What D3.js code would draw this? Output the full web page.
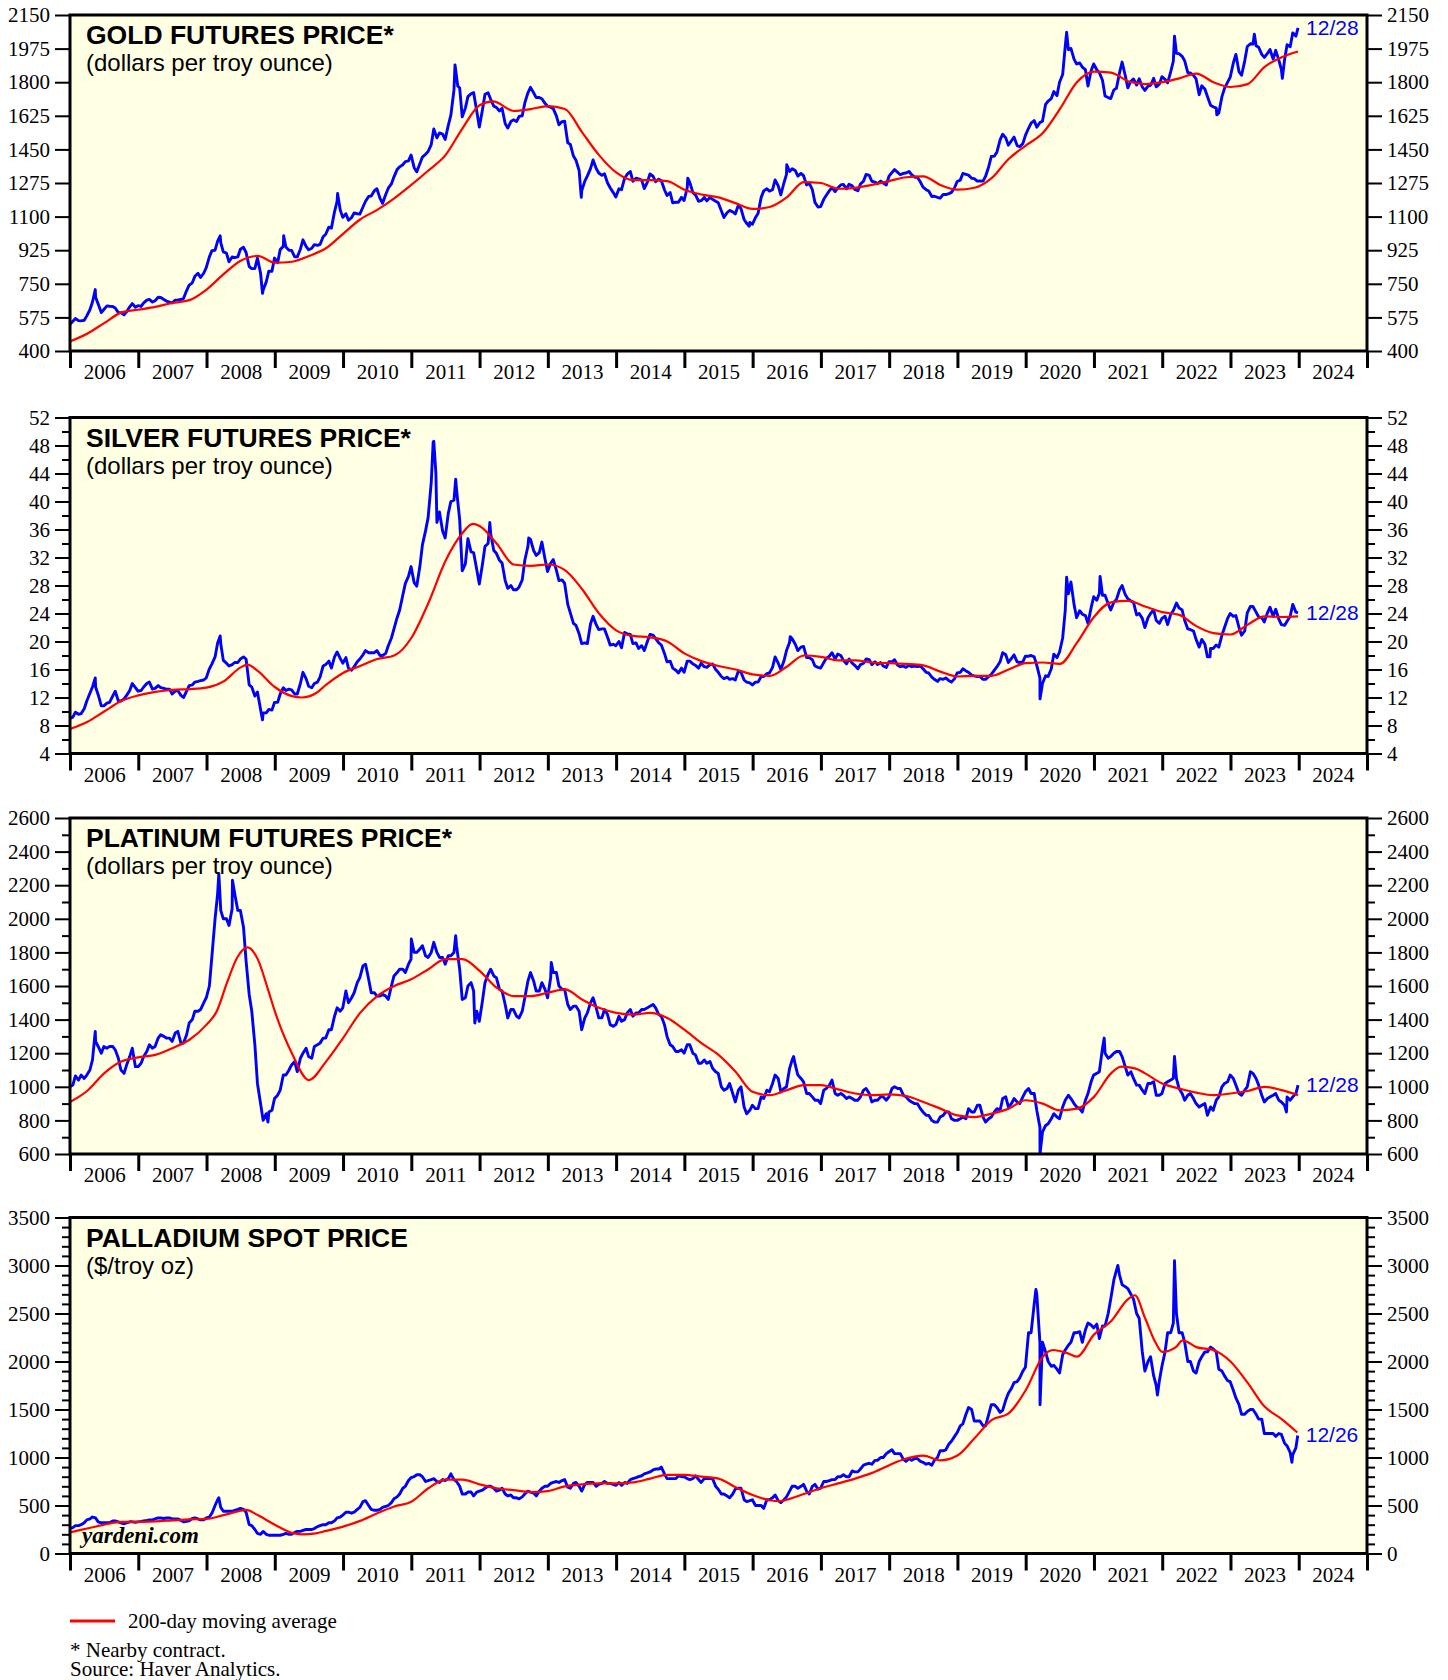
<!DOCTYPE html>
<html>
<head>
<meta charset="utf-8">
<script src="https://cdn.jsdelivr.net/npm/d3@7"></script>
<style>
body { margin: 0; background: #fff; }
svg text { font-family: "Liberation Serif", "Times New Roman", serif; fill: #000; }
.axis text { font-size: 21px; }
.axis line { stroke: #000; stroke-width: 2; }
.axis .domain { display: none; }
.xaxis line { stroke-width: 3; }
.title { font-family: "Liberation Sans", Arial, sans-serif; font-weight: bold; font-size: 26.5px; }
.sub { font-family: "Liberation Sans", Arial, sans-serif; font-size: 24px; }
.endlabel { font-family: "Liberation Sans", Arial, sans-serif; font-size: 21px; fill: #0000ff; }
.price { fill: none; stroke: #0000ff; stroke-width: 2.9; stroke-linejoin: round; }
.avg { fill: none; stroke: #ff0000; stroke-width: 2.2; }
</style>
</head>
<body>
<svg id="chart" width="1448" height="1680"></svg>
<script>
// monthly averages, Jan 2006 .. Dec 2023
const gold = [
  555, 558, 560, 615, 680, 600, 635, 632, 600, 588, 630, 628,
  632, 665, 655, 680, 668, 655, 665, 668, 715, 755, 805, 805,
  890, 925, 965, 910, 890, 890, 940, 840, 830, 805, 760, 815,
  860, 945, 925, 890, 930, 945, 935, 950, 995, 1045, 1125, 1135,
  1115, 1095, 1115, 1150, 1205, 1235, 1195, 1215, 1270, 1345, 1370, 1390,
  1355, 1375, 1425, 1475, 1510, 1530, 1575, 1760, 1770, 1665, 1740, 1650,
  1655, 1745, 1675, 1650, 1585, 1595, 1595, 1625, 1745, 1745, 1720, 1690,
  1670, 1625, 1595, 1485, 1415, 1340, 1285, 1350, 1350, 1315, 1275, 1225,
  1245, 1300, 1335, 1300, 1290, 1280, 1310, 1295, 1240, 1225, 1175, 1200,
  1250, 1225, 1180, 1200, 1200, 1180, 1130, 1120, 1125, 1160, 1085, 1070,
  1095, 1200, 1245, 1240, 1260, 1275, 1335, 1340, 1325, 1265, 1240, 1150,
  1190, 1235, 1230, 1265, 1245, 1260, 1235, 1285, 1315, 1280, 1285, 1265,
  1330, 1330, 1325, 1335, 1305, 1280, 1240, 1205, 1200, 1215, 1220, 1250,
  1290, 1320, 1300, 1285, 1285, 1360, 1415, 1500, 1510, 1495, 1470, 1480,
  1560, 1600, 1590, 1685, 1715, 1730, 1840, 1970, 1920, 1900, 1865, 1860,
  1865, 1810, 1720, 1760, 1850, 1835, 1805, 1785, 1775, 1780, 1820, 1790,
  1815, 1855, 1950, 1935, 1850, 1835, 1735, 1765, 1680, 1665, 1725, 1800,
  1900, 1855, 1910, 2000, 1990, 1945, 1950, 1920, 1915, 1915, 1985, 2040
];
// month-end closes, Jan 2006 .. Nov 2023
const goldClose = [
  569, 557, 583, 655, 645, 616, 633, 624, 600, 604, 647, 636,
  651, 669, 662, 679, 660, 650, 666, 673, 743, 789, 783, 834,
  923, 972, 916, 865, 886, 930, 913, 829, 884, 718, 816, 884,
  928, 942, 924, 890, 979, 927, 954, 955, 1008, 1040, 1180, 1096,
  1081, 1119, 1113, 1180, 1207, 1245, 1169, 1248, 1307, 1359, 1386, 1421,
  1333, 1410, 1439, 1556, 1536, 1502, 1628, 1829, 1620, 1725, 1746, 1566,
  1737, 1711, 1669, 1664, 1561, 1604, 1622, 1692, 1773, 1720, 1714, 1675,
  1662, 1578, 1597, 1476, 1393, 1234, 1312, 1395, 1327, 1323, 1250, 1202,
  1240, 1321, 1284, 1296, 1246, 1322, 1282, 1287, 1210, 1172, 1175, 1184,
  1278, 1213, 1183, 1182, 1190, 1172, 1095, 1132, 1114, 1142, 1065, 1060,
  1116, 1234, 1233, 1291, 1213, 1320, 1349, 1311, 1313, 1274, 1174, 1152,
  1211, 1251, 1249, 1268, 1268, 1242, 1270, 1320, 1284, 1271, 1275, 1309,
  1345, 1318, 1327, 1318, 1305, 1253, 1233, 1206, 1196, 1215, 1226, 1283,
  1325, 1316, 1298, 1286, 1310, 1413, 1437, 1529, 1472, 1514, 1464, 1523,
  1587, 1566, 1597, 1702, 1751, 1800, 1986, 1976, 1895, 1879, 1780, 1895,
  1850, 1728, 1715, 1768, 1905, 1771, 1817, 1818, 1757, 1784, 1776, 1829,
  1797, 1909, 1949, 1911, 1848, 1817, 1781, 1726, 1672, 1640, 1768, 1826,
  1945, 1836, 1986, 1999, 1982, 1929, 1970, 1966, 1866, 1995, 2057
];
const goldPeaks = [
  [2006.0, 540], [2006.37, 720], [2008.2, 1000], [2008.82, 700], [2009.13, 1000], [2009.92, 1220],
  [2011.64, 1890], [2011.68, 1780], [2013.49, 1200], [2015.05, 1300], [2015.95, 1050],
  [2016.5, 1370], [2020.6, 2060], [2022.18, 2040], [2022.8, 1630], [2023.35, 2050],
  [2023.76, 1820], [2023.99, 2083]
];
const goldAvg = [
  [2006.0, 450], [2006.25, 490], [2006.5, 545], [2006.75, 600], [2007.0, 615], [2007.25, 630],
  [2007.5, 650], [2007.75, 665], [2008.0, 720], [2008.25, 800], [2008.5, 870], [2008.75, 895],
  [2009.0, 860], [2009.25, 865], [2009.5, 895], [2009.75, 935], [2010.0, 1010], [2010.25, 1085],
  [2010.5, 1135], [2010.75, 1195], [2011.0, 1265], [2011.25, 1340], [2011.5, 1420], [2011.75, 1560],
  [2012.0, 1680], [2012.2, 1700], [2012.5, 1650], [2012.75, 1660], [2013.0, 1675], [2013.25, 1660],
  [2013.5, 1540], [2013.75, 1420], [2014.0, 1330], [2014.25, 1290], [2014.5, 1290], [2014.75, 1285],
  [2015.0, 1240], [2015.25, 1215], [2015.5, 1200], [2015.75, 1170], [2016.0, 1140], [2016.25, 1150],
  [2016.5, 1200], [2016.75, 1280], [2017.0, 1275], [2017.25, 1245], [2017.5, 1250], [2017.75, 1265],
  [2018.0, 1285], [2018.25, 1305], [2018.5, 1310], [2018.75, 1265], [2019.0, 1240], [2019.25, 1250],
  [2019.5, 1300], [2019.75, 1400], [2020.0, 1470], [2020.25, 1535], [2020.5, 1660], [2020.75, 1800],
  [2021.0, 1855], [2021.25, 1850], [2021.5, 1805], [2021.75, 1790], [2022.0, 1800], [2022.25, 1820],
  [2022.5, 1845], [2022.75, 1800], [2023.0, 1775], [2023.25, 1790], [2023.5, 1880], [2023.75, 1930],
  [2023.99, 1960]
];
const goldTicks = [400, 575, 750, 925, 1100, 1275, 1450, 1625, 1800, 1975, 2150];

const silver = [
  9.2, 9.6, 10.4, 12.6, 13.5, 10.8, 11.2, 12.2, 11.5, 11.8, 13.0, 13.4,
  13.0, 14.0, 13.2, 13.7, 13.3, 13.2, 12.9, 12.3, 12.9, 13.8, 14.3, 14.5,
  16.1, 17.8, 19.7, 16.9, 16.7, 17.0, 17.8, 13.8, 12.2, 10.3, 9.8, 10.2,
  11.3, 13.4, 13.2, 12.5, 14.0, 14.7, 13.4, 14.2, 16.5, 17.2, 17.8, 17.6,
  17.7, 15.9, 17.1, 18.1, 18.4, 18.4, 18.0, 18.3, 20.5, 23.4, 26.6, 29.3,
  28.4, 30.7, 35.8, 42.7, 37.0, 35.8, 38.3, 40.2, 37.4, 31.1, 32.8, 30.3,
  31.0, 34.0, 33.0, 31.6, 28.7, 28.0, 27.4, 28.8, 33.6, 33.0, 32.7, 31.8,
  31.2, 30.2, 28.8, 25.3, 22.6, 21.1, 19.8, 22.5, 22.4, 21.8, 20.6, 19.6,
  20.0, 21.3, 21.0, 19.8, 19.4, 20.0, 20.9, 19.8, 18.3, 17.2, 15.9, 16.2,
  17.2, 16.8, 16.2, 16.4, 16.7, 16.0, 15.0, 14.9, 14.7, 15.8, 14.5, 14.1,
  14.2, 15.0, 15.4, 16.3, 16.9, 17.2, 19.9, 19.6, 19.2, 17.7, 17.4, 16.3,
  17.0, 17.9, 17.5, 18.0, 16.8, 16.9, 16.1, 16.9, 17.4, 17.1, 17.0, 16.3,
  17.1, 16.6, 16.5, 16.6, 16.5, 16.5, 15.6, 14.9, 14.3, 14.6, 14.4, 14.7,
  15.6, 15.8, 15.2, 15.0, 14.6, 15.0, 15.9, 17.1, 18.1, 17.6, 17.1, 17.1,
  17.9, 17.8, 14.8, 15.1, 16.1, 17.7, 20.5, 26.8, 25.3, 24.4, 23.7, 24.8,
  25.9, 26.6, 25.4, 25.6, 27.4, 26.7, 25.8, 23.8, 23.3, 23.4, 24.5, 22.6,
  23.6, 23.9, 25.5, 24.5, 21.8, 21.5, 19.2, 19.6, 19.0, 19.5, 20.9, 23.3,
  23.6, 22.0, 21.5, 25.0, 24.2, 23.4, 24.1, 23.6, 23.2, 22.3, 23.6, 24.2
];
const silverClose = [
  9.9, 9.7, 11.5, 13.5, 12.4, 10.8, 11.3, 12.9, 11.5, 12.3, 14.0, 12.9,
  13.5, 14.2, 13.3, 13.4, 13.2, 12.5, 13.0, 12.0, 13.7, 14.2, 14.4, 14.8,
  16.8, 19.8, 17.3, 16.5, 17.0, 17.5, 17.5, 13.5, 12.8, 9.8, 10.3, 11.3,
  12.5, 13.0, 13.1, 12.5, 15.6, 13.6, 14.0, 14.9, 16.7, 16.2, 18.5, 16.9,
  16.2, 16.4, 17.5, 18.7, 18.4, 18.7, 18.0, 19.4, 21.8, 24.5, 28.3, 30.7,
  27.9, 33.8, 37.7, 48.6, 38.5, 34.8, 40.0, 41.7, 30.1, 34.7, 32.7, 28.2,
  33.6, 35.4, 32.6, 31.2, 27.6, 27.4, 27.8, 31.6, 34.6, 32.3, 34.2, 30.0,
  31.7, 28.7, 28.3, 24.1, 22.3, 19.7, 19.7, 23.6, 21.7, 21.8, 19.5, 19.4,
  19.1, 21.1, 19.7, 19.0, 18.7, 21.0, 20.4, 19.5, 17.1, 16.2, 15.5, 15.6,
  17.2, 16.6, 16.9, 16.3, 16.8, 15.6, 14.7, 14.6, 14.5, 15.6, 14.2, 13.8,
  14.2, 15.0, 15.5, 17.8, 16.0, 18.7, 20.4, 18.7, 19.3, 17.7, 16.5, 16.2,
  17.6, 18.4, 18.2, 17.3, 17.5, 16.6, 16.7, 17.5, 16.7, 16.7, 16.5, 17.1,
  17.4, 16.4, 16.3, 16.4, 16.4, 16.1, 15.5, 14.6, 14.7, 14.8, 14.2, 15.5,
  16.1, 15.6, 15.1, 15.0, 14.6, 15.3, 16.4, 18.4, 17.0, 18.1, 17.0, 17.9,
  18.0, 16.6, 14.0, 15.0, 18.2, 18.5, 24.4, 28.5, 23.4, 23.9, 22.6, 26.4,
  26.9, 26.6, 24.5, 26.0, 28.0, 26.1, 25.6, 24.0, 22.0, 24.0, 23.0, 23.3,
  22.4, 24.4, 24.8, 23.0, 21.7, 20.3, 20.3, 17.8, 19.0, 19.2, 22.0, 24.0,
  23.7, 20.9, 24.1, 25.0, 23.5, 22.8, 24.9, 24.6, 22.4, 22.9, 25.3
];
const silverPeaks = [
  [2006.0, 9.0], [2006.37, 14.8], [2008.2, 20.8], [2008.82, 8.8], [2011.32, 48.5], [2011.36, 44],
  [2011.65, 43.2], [2012.15, 37], [2012.72, 34.8], [2016.55, 20.7], [2020.21, 11.8],
  [2020.6, 29.2], [2021.09, 29.3], [2022.7, 17.8], [2023.99, 24.1]
];
const silverAvg = [
  [2006.0, 7.5], [2006.25, 8.5], [2006.5, 10.0], [2006.75, 11.5], [2007.0, 12.3], [2007.25, 12.8],
  [2007.5, 13.1], [2007.75, 13.2], [2008.0, 13.4], [2008.25, 14.3], [2008.5, 16.3], [2008.6, 16.7],
  [2008.75, 15.8], [2009.0, 13.5], [2009.25, 12.2], [2009.4, 12.0], [2009.6, 12.6], [2009.75, 13.8],
  [2010.0, 15.5], [2010.25, 16.5], [2010.5, 17.5], [2010.75, 18.0], [2011.0, 20.5], [2011.25, 25.5],
  [2011.5, 31.5], [2011.75, 35.5], [2011.9, 36.8], [2012.0, 36.5], [2012.25, 34.0], [2012.5, 31.0],
  [2012.75, 30.8], [2013.0, 31.0], [2013.25, 30.2], [2013.5, 27.5], [2013.75, 24.0], [2014.0, 21.6],
  [2014.25, 20.8], [2014.5, 20.6], [2014.75, 20.0], [2015.0, 18.3], [2015.25, 17.2], [2015.5, 16.5],
  [2015.75, 16.0], [2016.0, 15.3], [2016.25, 15.1], [2016.5, 16.4], [2016.75, 18.0], [2017.0, 17.8],
  [2017.25, 17.3], [2017.5, 17.3], [2017.75, 17.0], [2018.0, 16.9], [2018.25, 16.8], [2018.5, 16.6],
  [2018.75, 15.7], [2019.0, 15.0], [2019.25, 15.1], [2019.5, 15.1], [2019.75, 16.0], [2020.0, 16.9],
  [2020.25, 17.0], [2020.5, 16.8], [2020.75, 19.8], [2021.0, 23.5], [2021.25, 25.6], [2021.5, 25.8],
  [2021.75, 25.0], [2022.0, 24.2], [2022.25, 23.8], [2022.5, 22.2], [2022.75, 21.2], [2023.0, 21.0],
  [2023.25, 22.4], [2023.5, 23.6], [2023.75, 23.5], [2023.99, 23.6]
];
const silverTicks = [4, 8, 12, 16, 20, 24, 28, 32, 36, 40, 44, 48, 52];

const platinum = [
  1010, 1040, 1050, 1100, 1270, 1200, 1230, 1240, 1170, 1080, 1180, 1120,
  1140, 1210, 1230, 1290, 1300, 1290, 1320, 1260, 1310, 1400, 1450, 1500,
  1600, 2000, 2050, 2000, 2060, 2050, 1950, 1550, 1250, 900, 840, 860,
  950, 1070, 1100, 1150, 1170, 1230, 1170, 1250, 1290, 1340, 1420, 1450,
  1570, 1530, 1620, 1720, 1640, 1560, 1540, 1540, 1600, 1680, 1700, 1730,
  1800, 1820, 1780, 1800, 1800, 1770, 1780, 1800, 1700, 1530, 1620, 1450,
  1510, 1670, 1660, 1580, 1490, 1460, 1420, 1450, 1630, 1630, 1570, 1580,
  1650, 1680, 1580, 1490, 1480, 1450, 1410, 1500, 1470, 1410, 1430, 1360,
  1420, 1400, 1460, 1440, 1460, 1470, 1490, 1430, 1370, 1250, 1210, 1220,
  1250, 1200, 1140, 1160, 1150, 1090, 1000, 990, 960, 980, 880, 860,
  870, 940, 980, 1020, 1050, 990, 1110, 1130, 1050, 960, 940, 920,
  980, 1010, 960, 960, 930, 930, 920, 980, 960, 920, 940, 920,
  990, 990, 950, 920, 900, 870, 830, 800, 790, 830, 850, 800,
  810, 810, 850, 890, 820, 810, 850, 860, 940, 900, 910, 940,
  990, 960, 760, 770, 810, 820, 880, 950, 900, 870, 920, 1030,
  1080, 1230, 1170, 1200, 1210, 1120, 1090, 1010, 980, 1020, 1030, 950,
  1020, 1040, 1050, 960, 950, 930, 880, 900, 880, 920, 1000, 1030,
  1050, 960, 980, 1090, 1050, 950, 930, 950, 920, 890, 920, 960
];
const platinumClose = [
  1065, 1070, 1070, 1160, 1240, 1240, 1240, 1220, 1100, 1130, 1230, 1120,
  1180, 1250, 1240, 1310, 1290, 1270, 1330, 1260, 1380, 1450, 1460, 1530,
  1780, 2150, 2000, 1960, 2150, 2050, 1750, 1450, 1020, 800, 850, 930,
  980, 1070, 1130, 1090, 1200, 1180, 1240, 1260, 1290, 1340, 1470, 1470,
  1500, 1560, 1650, 1730, 1560, 1540, 1550, 1520, 1660, 1700, 1680, 1760,
  1800, 1840, 1770, 1860, 1770, 1730, 1780, 1840, 1520, 1600, 1570, 1390,
  1620, 1700, 1650, 1570, 1410, 1460, 1410, 1530, 1680, 1570, 1620, 1530,
  1680, 1600, 1580, 1460, 1480, 1340, 1440, 1530, 1410, 1460, 1370, 1370,
  1390, 1440, 1420, 1440, 1460, 1480, 1470, 1420, 1300, 1240, 1210, 1200,
  1250, 1190, 1140, 1140, 1110, 1080, 980, 1020, 910, 1000, 840, 890,
  870, 930, 970, 1070, 970, 1000, 1160, 1070, 1030, 960, 920, 900,
  990, 1040, 950, 950, 940, 920, 940, 990, 910, 920, 940, 940,
  1000, 990, 940, 910, 900, 850, 830, 790, 820, 850, 810, 800,
  820, 870, 850, 890, 790, 820, 870, 930, 880, 930, 900, 970,
  960, 860, 730, 780, 840, 810, 920, 930, 880, 850, 960, 1070,
  1090, 1200, 1180, 1210, 1180, 1070, 1050, 1010, 960, 1020, 950, 960,
  1030, 1050, 990, 920, 960, 900, 890, 830, 860, 940, 1020, 1070,
  1010, 950, 1000, 1080, 1010, 910, 940, 960, 910, 940, 940
];
const platinumPeaks = [
  [2006.0, 1000], [2006.37, 1330], [2008.18, 2270], [2008.38, 2230], [2008.9, 790], [2011.0, 1880],
  [2011.65, 1900], [2011.93, 1380], [2013.05, 1740], [2016.6, 1180], [2020.21, 600],
  [2021.15, 1290], [2022.18, 1180], [2023.82, 850], [2023.99, 1010]
];
const platinumAvg = [
  [2006.0, 910], [2006.25, 975], [2006.5, 1080], [2006.75, 1150], [2007.0, 1175], [2007.25, 1190],
  [2007.5, 1230], [2007.75, 1280], [2008.0, 1370], [2008.15, 1450], [2008.3, 1620], [2008.45, 1770],
  [2008.6, 1830], [2008.75, 1760], [2008.9, 1580], [2009.0, 1450], [2009.25, 1200], [2009.5, 1040],
  [2009.75, 1150], [2010.0, 1290], [2010.25, 1440], [2010.5, 1540], [2010.75, 1600], [2011.0, 1640],
  [2011.25, 1700], [2011.5, 1760], [2011.75, 1760], [2012.0, 1690], [2012.25, 1590], [2012.5, 1540],
  [2012.75, 1540], [2013.0, 1560], [2013.25, 1580], [2013.5, 1520], [2013.75, 1470], [2014.0, 1440],
  [2014.25, 1430], [2014.5, 1440], [2014.75, 1410], [2015.0, 1340], [2015.25, 1260], [2015.5, 1190],
  [2015.75, 1090], [2016.0, 970], [2016.25, 950], [2016.5, 980], [2016.75, 1010], [2017.0, 1010],
  [2017.25, 985], [2017.5, 960], [2017.75, 950], [2018.0, 955], [2018.25, 945], [2018.5, 910],
  [2018.75, 870], [2019.0, 830], [2019.25, 820], [2019.5, 840], [2019.75, 870], [2020.0, 920],
  [2020.25, 900], [2020.5, 860], [2020.75, 870], [2021.0, 940], [2021.25, 1080], [2021.4, 1120],
  [2021.6, 1110], [2021.75, 1080], [2022.0, 1020], [2022.25, 990], [2022.5, 965], [2022.75, 950],
  [2023.0, 960], [2023.25, 975], [2023.5, 1000], [2023.75, 980], [2023.99, 950]
];
const platinumTicks = [600, 800, 1000, 1200, 1400, 1600, 1800, 2000, 2200, 2400, 2600];

const palladium = [
  270, 290, 320, 360, 370, 320, 320, 340, 330, 310, 330, 325,
  335, 345, 350, 370, 365, 370, 360, 345, 335, 365, 360, 350,
  380, 500, 480, 440, 440, 460, 460, 300, 250, 200, 200, 190,
  190, 200, 200, 220, 230, 250, 250, 280, 300, 320, 340, 380,
  430, 420, 460, 540, 500, 450, 460, 490, 530, 590, 680, 760,
  800, 820, 750, 770, 750, 770, 780, 770, 700, 620, 640, 640,
  660, 700, 680, 660, 620, 610, 580, 590, 650, 630, 650, 700,
  730, 750, 760, 690, 730, 700, 720, 740, 700, 730, 730, 720,
  740, 740, 770, 790, 810, 840, 870, 880, 830, 780, 780, 800,
  780, 780, 770, 780, 780, 700, 620, 600, 620, 680, 560, 550,
  500, 500, 560, 580, 550, 560, 650, 700, 700, 650, 700, 670,
  750, 760, 770, 800, 800, 860, 850, 920, 940, 970, 1000, 1040,
  1080, 1040, 980, 990, 990, 960, 930, 920, 1000, 1070, 1140, 1220,
  1330, 1450, 1500, 1380, 1330, 1450, 1550, 1470, 1600, 1720, 1790, 1900,
  2300, 2600, 2200, 2100, 1950, 1920, 2070, 2170, 2300, 2310, 2330, 2380,
  2390, 2370, 2500, 2850, 2900, 2780, 2700, 2500, 2100, 2000, 1850, 1800,
  2100, 2300, 2500, 2300, 2000, 1900, 2000, 2100, 2150, 2100, 1900, 1800,
  1700, 1550, 1450, 1500, 1450, 1400, 1250, 1250, 1250, 1150, 1050, 1100
];
const palladiumClose = [
  290, 300, 350, 380, 330, 320, 320, 340, 320, 320, 330, 330,
  340, 350, 360, 370, 370, 360, 360, 330, 340, 370, 350, 370,
  420, 560, 440, 440, 450, 470, 430, 290, 210, 230, 190, 190,
  190, 210, 200, 230, 240, 250, 260, 290, 300, 320, 370, 400,
  430, 430, 480, 550, 460, 450, 480, 500, 570, 620, 700, 790,
  820, 800, 760, 780, 740, 760, 830, 750, 620, 640, 600, 650,
  680, 700, 650, 680, 600, 580, 570, 620, 640, 600, 680, 700,
  740, 740, 770, 680, 740, 650, 740, 740, 720, 750, 730, 710,
  710, 730, 780, 800, 830, 850, 880, 900, 780, 780, 810, 800,
  770, 810, 740, 780, 780, 670, 620, 580, 670, 680, 540, 560,
  500, 470, 560, 610, 530, 590, 700, 680, 720, 620, 720, 680,
  750, 770, 800, 820, 800, 850, 880, 930, 930, 970, 1000, 1060,
  1040, 1040, 960, 970, 990, 950, 940, 970, 1070, 1080, 1170, 1260,
  1350, 1520, 1380, 1380, 1330, 1550, 1520, 1490, 1670, 1780, 1830, 1940,
  2300, 2700, 2200, 2000, 1960, 1880, 2120, 2200, 2300, 2200, 2400, 2350,
  2240, 2370, 2650, 2950, 2800, 2760, 2650, 2450, 1900, 2050, 1750, 1950,
  2300, 2400, 2300, 2200, 2000, 1880, 2050, 2100, 2130, 1920, 1850, 1790,
  1620, 1450, 1480, 1500, 1400, 1250, 1250, 1220, 1240, 1120, 1030
];
const palladiumPeaks = [
  [2006.0, 260], [2008.18, 580], [2020.15, 2750], [2020.21, 1550], [2021.35, 3000], [2021.93, 1650],
  [2022.18, 3050], [2023.9, 950], [2023.985, 1230]
];
const palladiumAvg = [
  [2006.0, 220], [2006.25, 260], [2006.5, 300], [2006.75, 330], [2007.0, 330], [2007.25, 335],
  [2007.5, 345], [2007.75, 355], [2008.0, 360], [2008.25, 400], [2008.5, 445], [2008.58, 455],
  [2008.75, 400], [2009.0, 300], [2009.25, 215], [2009.4, 200], [2009.6, 210], [2009.75, 235],
  [2010.0, 280], [2010.25, 340], [2010.5, 420], [2010.75, 490], [2011.0, 540], [2011.25, 680],
  [2011.5, 770], [2011.75, 770], [2012.0, 720], [2012.25, 680], [2012.5, 660], [2012.75, 640],
  [2013.0, 650], [2013.25, 700], [2013.5, 720], [2013.75, 730], [2014.0, 730], [2014.25, 740],
  [2014.5, 780], [2014.75, 820], [2015.0, 820], [2015.25, 800], [2015.5, 780], [2015.75, 690],
  [2016.0, 610], [2016.25, 555], [2016.4, 545], [2016.5, 560], [2016.75, 620], [2017.0, 680],
  [2017.25, 730], [2017.5, 780], [2017.75, 840], [2018.0, 920], [2018.25, 990], [2018.5, 1020],
  [2018.75, 970], [2019.0, 1020], [2019.25, 1200], [2019.5, 1390], [2019.75, 1460], [2020.0, 1700],
  [2020.25, 2050], [2020.4, 2120], [2020.6, 2090], [2020.75, 2050], [2021.0, 2280], [2021.25, 2420],
  [2021.5, 2650], [2021.6, 2690], [2021.75, 2450], [2021.9, 2200], [2022.0, 2100], [2022.2, 2150],
  [2022.3, 2220], [2022.5, 2150], [2022.75, 2120], [2023.0, 2000], [2023.25, 1780], [2023.5, 1530],
  [2023.75, 1400], [2023.98, 1260]
];
const palladiumTicks = [0, 500, 1000, 1500, 2000, 2500, 3000, 3500];

const years = d3.range(2006, 2025);

const left = 70, right = 1367, panelH = 336;

const x = d3.scaleLinear().domain([2006, 2025]).range([left, right]);

// merge mid-month averages, month-end closes and marked highs/lows into one dated list
function series(monthly, closes, peaks) {
  return monthly.map((v, i) => [2006 + (i + 0.5) / 12, v])
    .concat(closes.map((v, i) => [2006 + (i + 1) / 12 - 0.004, v]))
    .concat(peaks)
    .sort((a, b) => a[0] - b[0]);
}

const panels = [
  {top: 15, title: 'GOLD FUTURES PRICE*', sub: '(dollars per troy ounce)', ticks: goldTicks, minor: 0,
   data: series(gold, goldClose, goldPeaks), avg: goldAvg, end: '12/28'},
  {top: 417.5, title: 'SILVER FUTURES PRICE*', sub: '(dollars per troy ounce)', ticks: silverTicks, minor: 2,
   data: series(silver, silverClose, silverPeaks), avg: silverAvg, end: '12/28'},
  {top: 818, title: 'PLATINUM FUTURES PRICE*', sub: '(dollars per troy ounce)', ticks: platinumTicks, minor: 100,
   data: series(platinum, platinumClose, platinumPeaks), avg: platinumAvg, end: '12/28'},
  {top: 1217.5, title: 'PALLADIUM SPOT PRICE', sub: '($/troy oz)', ticks: palladiumTicks, minor: 100,
   data: series(palladium, palladiumClose, palladiumPeaks), avg: palladiumAvg, end: '12/26'}
];

const svg = d3.select('#chart');

panels.forEach((p, k) => {
  const bottom = p.top + panelH;
  const y = d3.scaleLinear().domain(d3.extent(p.ticks)).range([bottom, p.top]);
  const g = svg.append('g');

  g.append('rect')
    .attr('x', left).attr('y', p.top)
    .attr('width', right - left).attr('height', panelH)
    .attr('fill', '#ffffe4');

  g.append('clipPath').attr('id', 'clip' + k)
    .append('rect')
    .attr('x', left).attr('y', p.top)
    .attr('width', right - left).attr('height', panelH);

  // minor ticks
  if (p.minor) {
    const minors = d3.range(p.ticks[0], p.ticks[p.ticks.length - 1], p.minor)
      .filter(v => p.ticks.indexOf(v) < 0);
    g.append('g').attr('class', 'axis')
      .attr('transform', 'translate(' + left + ',0)')
      .call(d3.axisLeft(y).tickValues(minors).tickSize(8).tickFormat(''))
      .selectAll('text').remove();
    g.append('g').attr('class', 'axis')
      .attr('transform', 'translate(' + right + ',0)')
      .call(d3.axisRight(y).tickValues(minors).tickSize(8).tickFormat(''))
      .selectAll('text').remove();
  }

  g.append('g').attr('class', 'axis')
    .attr('transform', 'translate(' + left + ',0)')
    .call(d3.axisLeft(y).tickValues(p.ticks).tickSize(15).tickPadding(5).tickFormat(d3.format('d')));
  g.append('g').attr('class', 'axis')
    .attr('transform', 'translate(' + right + ',0)')
    .call(d3.axisRight(y).tickValues(p.ticks).tickSize(15).tickPadding(5).tickFormat(d3.format('d')));

  // year ticks and labels
  g.append('g').attr('class', 'axis xaxis')
    .attr('transform', 'translate(0,' + bottom + ')')
    .call(d3.axisBottom(x).tickValues(years.concat([2025])).tickSize(17).tickFormat(''))
    .selectAll('text').remove();
  g.append('g').attr('class', 'axis')
    .attr('transform', 'translate(0,' + bottom + ')')
    .call(d3.axisBottom(x).tickValues(years.map(d => d + 0.5)).tickSize(0)
      .tickFormat(d => Math.floor(d)))
    .selectAll('text').attr('dy', null).attr('y', 28);

  const lines = g.append('g').attr('clip-path', 'url(#clip' + k + ')');

  lines.append('path')
    .datum(p.data)
    .attr('class', 'price')
    .attr('d', d3.line().x(d => x(d[0])).y(d => y(d[1])));

  lines.append('path')
    .datum(p.avg)
    .attr('class', 'avg')
    .attr('d', d3.line().x(d => x(d[0])).y(d => y(d[1])).curve(d3.curveMonotoneX));

  g.append('rect')
    .attr('x', left).attr('y', p.top)
    .attr('width', right - left).attr('height', panelH)
    .attr('fill', 'none').attr('stroke', '#000').attr('stroke-width', 3);

  g.append('text').attr('class', 'title')
    .attr('x', 86).attr('y', p.top + 29).text(p.title);
  g.append('text').attr('class', 'sub')
    .attr('x', 86).attr('y', p.top + 56).text(p.sub);

  const last = p.data[p.data.length - 1];
  g.append('text').attr('class', 'endlabel')
    .attr('x', x(last[0]) + 8).attr('y', y(last[1]) + 7)
    .text(p.end);
});

svg.append('text')
  .attr('x', 82).attr('y', 1543)
  .style('font-weight', 'bold').style('font-style', 'italic').style('font-size', '23px')
  .text('yardeni.com');

svg.append('line')
  .attr('x1', 70).attr('x2', 115).attr('y1', 1621).attr('y2', 1621)
  .attr('stroke', '#ff0000').attr('stroke-width', 3);
svg.append('text').attr('x', 128).attr('y', 1628).style('font-size', '21px')
  .text('200-day moving average');
svg.append('text').attr('x', 70).attr('y', 1657).style('font-size', '21px')
  .text('* Nearby contract.');
svg.append('text').attr('x', 70).attr('y', 1676).style('font-size', '21px')
  .text('Source: Haver Analytics.');
</script>
</body>
</html>
